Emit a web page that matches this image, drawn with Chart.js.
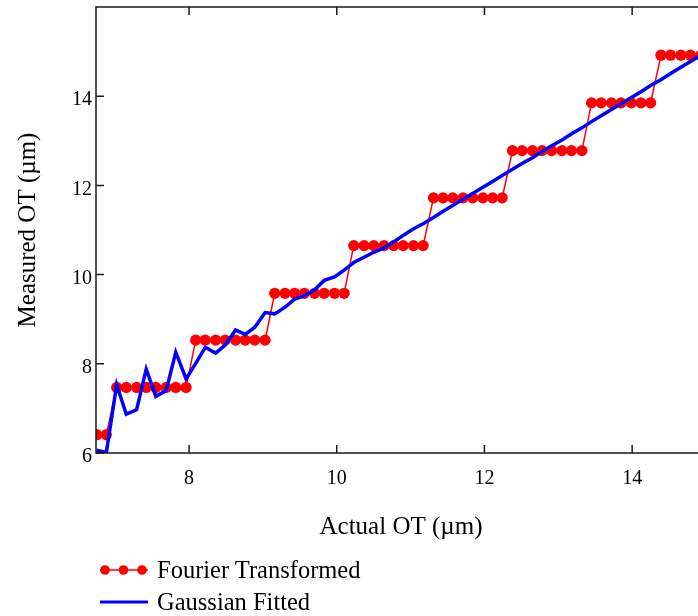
<!DOCTYPE html>
<html>
<head>
<meta charset="utf-8">
<script src="https://cdn.jsdelivr.net/npm/chart.js@4.4.1/dist/chart.umd.min.js"></script>
<style>
  html, body { margin: 0; padding: 0; background: #fff; overflow: hidden; width: 698px; height: 616px; }
  #wrap { position: relative; width: 698px; height: 616px; overflow: hidden; }
  #chart { position: absolute; left: 0; top: 0; }
  #legend { position: absolute; left: 0; top: 0; width: 698px; height: 616px; pointer-events: none;
            font-family: "Liberation Serif", "Times New Roman", serif; font-size: 24.5px; color: #000; }
  .item { position: absolute; left: 100px; height: 24px; line-height: 24px; white-space: nowrap; }
  .item svg { position: absolute; left: 0; top: 6px; overflow: visible; }
  .item span { position: absolute; left: 57px; top: 0; }
</style>
</head>
<body>
<div id="wrap">
  <canvas id="chart" width="712" height="560"></canvas>
  <div id="legend"></div>
</div>
<script>
// Actual optical thickness (µm) of each sample
const actualOT = [
  6.75, 6.88, 7.02, 7.15, 7.29, 7.42, 7.55, 7.69, 7.82, 7.96,
  8.09, 8.22, 8.36, 8.49, 8.63, 8.76, 8.89, 9.03, 9.16, 9.30,
  9.43, 9.56, 9.70, 9.83, 9.97, 10.10, 10.23, 10.37, 10.50, 10.64,
  10.77, 10.90, 11.04, 11.17, 11.31, 11.44, 11.57, 11.71, 11.84, 11.98,
  12.11, 12.24, 12.38, 12.51, 12.65, 12.78, 12.91, 13.05, 13.18, 13.32,
  13.45, 13.58, 13.72, 13.85, 13.99, 14.12, 14.25, 14.39, 14.52, 14.66,
  14.79, 14.93
];

// Measured OT from the Fourier transform peak (quantised steps)
const fourierOT = [
  6.41, 6.41,
  7.47, 7.47, 7.47, 7.47, 7.47, 7.47, 7.47, 7.47,
  8.53, 8.53, 8.53, 8.53, 8.53, 8.53, 8.53, 8.53,
  9.58, 9.58, 9.58, 9.58, 9.58, 9.58, 9.58, 9.58,
  10.65, 10.65, 10.65, 10.65, 10.65, 10.65, 10.65, 10.65,
  11.72, 11.72, 11.72, 11.72, 11.72, 11.72, 11.72, 11.72,
  12.78, 12.78, 12.78, 12.78, 12.78, 12.78, 12.78, 12.78,
  13.85, 13.85, 13.85, 13.85, 13.85, 13.85, 13.85,
  14.92, 14.92, 14.92, 14.92, 14.92
];

// Measured OT from the Gaussian fit of the peak
const gaussianOT = [
  6.06, 6.01, 7.53, 6.87, 6.97, 7.88, 7.27, 7.40, 8.26, 7.66,
  8.01, 8.37, 8.24, 8.42, 8.76, 8.66, 8.82, 9.15, 9.12, 9.27,
  9.45, 9.52, 9.66, 9.87, 9.95, 10.10, 10.27, 10.39, 10.50, 10.60,
  10.73, 10.88, 11.03, 11.14, 11.28, 11.42, 11.55, 11.69, 11.82, 11.96,
  12.09, 12.22, 12.36, 12.49, 12.62, 12.76, 12.89, 13.02, 13.16, 13.29,
  13.43, 13.56, 13.70, 13.83, 13.97, 14.10, 14.24, 14.37, 14.51, 14.65,
  14.78, 14.92
];

const seriesNames = ['Fourier Transformed', 'Gaussian Fitted'];
const xTickValues = [8, 10, 12, 14];
const yTickValues = [6, 8, 10, 12, 14];

const SERIF = '"Liberation Serif", "Times New Roman", serif';
const INK = '#1a1a1a';

const toPoints = ys => actualOT.map((x, i) => ({ x: x, y: ys[i] }));

// Frame on all four sides with ticks pointing into the plot
const frameTicks = {
  id: 'frameTicks',
  afterDatasetsDraw(chart) {
    const { ctx, chartArea: a, scales: { x, y } } = chart;
    const len = 8;
    ctx.save();
    ctx.strokeStyle = INK;
    ctx.lineWidth = 1.5;
    ctx.beginPath();
    x.ticks.forEach(t => {
      const px = x.getPixelForValue(t.value);
      ctx.moveTo(px, a.bottom); ctx.lineTo(px, a.bottom - len);
      ctx.moveTo(px, a.top); ctx.lineTo(px, a.top + len);
    });
    y.ticks.forEach(t => {
      const py = y.getPixelForValue(t.value);
      ctx.moveTo(a.left, py); ctx.lineTo(a.left + len, py);
      ctx.moveTo(a.right, py); ctx.lineTo(a.right - len, py);
    });
    ctx.stroke();
    ctx.strokeRect(a.left, a.top, a.right - a.left, a.bottom - a.top);
    ctx.restore();
  }
};

// Legend written as HTML below the plot, built from the datasets
const htmlLegend = {
  id: 'htmlLegend',
  afterUpdate(chart) {
    const box = document.getElementById('legend');
    box.innerHTML = '';
    const tops = [558, 589.7];
    chart.data.datasets.forEach((ds, i) => {
      const item = document.createElement('div');
      item.className = 'item';
      item.style.top = tops[i] + 'px';
      let marker;
      if (ds.pointRadius > 0) {
        marker = '<svg width="50" height="12">' +
          '<line x1="0" y1="6" x2="48" y2="6" stroke="' + ds.borderColor + '" stroke-width="1.5"/>' +
          [5, 23.5, 42].map(cx => '<circle cx="' + cx + '" cy="6" r="4.8" fill="' + ds.pointBackgroundColor + '"/>').join('') +
          '</svg>';
      } else {
        marker = '<svg width="50" height="12">' +
          '<line x1="0" y1="6" x2="48" y2="6" stroke="' + ds.borderColor + '" stroke-width="3"/>' +
          '</svg>';
      }
      item.innerHTML = marker + '<span>' + ds.label + '</span>';
      box.appendChild(item);
    });
  }
};

const zeroPadding = s => { s.paddingTop = 0; s.paddingBottom = 0; s.paddingLeft = 0; s.paddingRight = 0; };

new Chart(document.getElementById('chart'), {
  type: 'line',
  data: {
    datasets: [
      {
        label: seriesNames[0],
        data: toPoints(fourierOT),
        borderColor: '#ff0000',
        backgroundColor: '#ff0000',
        borderWidth: 1.5,
        pointRadius: 5.6,
        pointBackgroundColor: '#ff0000',
        pointBorderWidth: 0,
        tension: 0,
        clip: 0,
        order: 1
      },
      {
        label: seriesNames[1],
        data: toPoints(gaussianOT),
        borderColor: '#0000ff',
        backgroundColor: '#0000ff',
        borderWidth: 3.5,
        pointRadius: 0,
        tension: 0,
        clip: 0,
        order: 0
      }
    ]
  },
  options: {
    responsive: false,
    animation: false,
    devicePixelRatio: 1,
    layout: { padding: { top: 7, right: 6, bottom: 0, left: 0 } },
    plugins: { legend: { display: false }, tooltip: { enabled: false } },
    scales: {
      x: {
        type: 'linear',
        min: 6.74,
        max: 15,
        afterBuildTicks: s => { s.ticks = xTickValues.map(v => ({ value: v })); },
        afterFit: s => { s.height = 107; zeroPadding(s); },
        grid: { display: false, drawTicks: false },
        border: { display: false },
        ticks: { padding: 14, color: '#000', font: { family: SERIF, size: 20 }, callback: v => String(v) },
        title: {
          display: true, text: 'Actual OT (µm)', color: '#000',
          font: { family: SERIF, size: 25 }, padding: { top: 0, bottom: 18 }
        }
      },
      y: {
        type: 'linear',
        min: 6,
        max: 16,
        afterBuildTicks: s => { s.ticks = yTickValues.map(v => ({ value: v })); },
        afterFit: s => { s.width = 96; zeroPadding(s); },
        grid: { display: false, drawTicks: false },
        border: { display: false },
        ticks: { padding: 4, labelOffset: 4, color: '#000', font: { family: SERIF, size: 20 }, callback: v => String(v) },
        title: {
          display: true, text: 'Measured OT (µm)', color: '#000',
          font: { family: SERIF, size: 25 }, padding: { top: 13, bottom: 0 }
        }
      }
    }
  },
  plugins: [frameTicks, htmlLegend]
});
</script>
</body>
</html>
